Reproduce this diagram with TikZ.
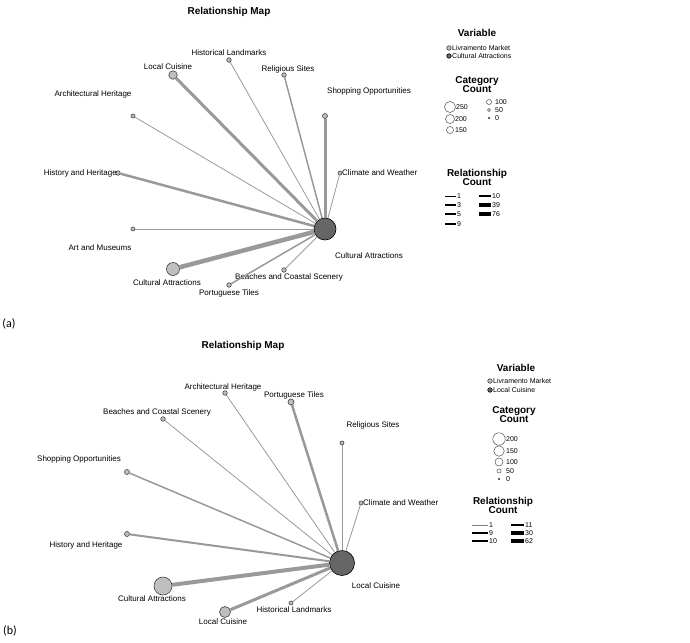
\documentclass[tikz,border=0pt]{standalone}
\usepackage{fontspec}
\setmainfont{Liberation Sans}
\newfontfamily\capfont{Carlito}
\usepackage{tikz}
\usetikzlibrary{positioning}

\tikzset{
  catnode/.style={circle, draw=black!75, fill=black!25, line width=0.6pt, inner sep=0pt},
  hubnode/.style={circle, draw=black, fill=black!60, line width=0.6pt, inner sep=0pt},
  lbl/.style={font=\fontsize{8}{9}\selectfont, inner sep=0pt},
  ttl/.style={font=\bfseries\fontsize{10}{11}\selectfont, inner sep=0pt},
  lgttl/.style={font=\bfseries\fontsize{10}{11}\selectfont, inner sep=0pt, align=center},
  lgtxt/.style={font=\fontsize{7}{8}\selectfont, inner sep=0pt},
  edge/.style={draw=black!40},
  lgline/.style={draw=black, shorten >=1.5pt},
  sizecirc/.style={circle, draw=black!70, fill=white, line width=0.5pt, inner sep=0pt}
}

\begin{document}
\begin{tikzpicture}[x=1pt, y=-1pt]
\useasboundingbox (0,0) rectangle (690,642);
%%% Panel (a): the map around Cultural Attractions
\node[ttl] (ttlA) at (229,12) {Relationship Map};
\node[hubnode, minimum size=22pt] (hubA) at (325,229) {};
\node[catnode, minimum size=8.5pt] (lcA) at (173,75) {};
\node[catnode, minimum size=4.5pt] (hlA) at (229,60) {};
\node[catnode, minimum size=4.5pt] (rsA) at (284,75) {};
\node[catnode, minimum size=5pt] (soA) at (325,116) {};
\node[catnode, minimum size=4pt] (cwA) at (340,173) {};
\node[catnode, minimum size=4pt] (ahA) at (133,116) {};
\node[catnode, minimum size=4.5pt] (hhA) at (118,173) {};
\node[catnode, minimum size=4pt] (amA) at (133,229) {};
\node[catnode, minimum size=13pt] (caA) at (173,269) {};
\node[catnode, minimum size=4.5pt] (ptA) at (229,285) {};
\node[catnode, minimum size=4.5pt] (bcA) at (284,270) {};
%%% labels of panel (a)
\node[lbl] (hlAt) at (229,53) {Historical Landmarks};
\node[lbl] (lcAt) at (168,67) {Local Cuisine};
\node[lbl] (rsAt) at (288,69) {Religious Sites};
\node[lbl] (ahAt) at (93,94) {Architectural Heritage};
\node[lbl] (soAt) at (369,91) {Shopping Opportunities};
\node[lbl, anchor=west] (cwAt) at (342,173) {Climate and Weather};
\node[lbl, anchor=east] (hhAt) at (117,173) {History and Heritage};
\node[lbl] (amAt) at (100,248) {Art and Museums};
\node[lbl] (hubAt) at (369,256) {Cultural Attractions};
\node[lbl] (caAt) at (167,283) {Cultural Attractions};
\node[lbl] (bcAt) at (289,277) {Beaches and Coastal Scenery};
\node[lbl] (ptAt) at (229,293) {Portuguese Tiles};
%%% edges of panel (a)
\draw[edge, line width=3pt] (hubA) -- (lcA);
\draw[edge, line width=0.8pt] (hubA) -- (hlA);
\draw[edge, line width=1.5pt] (hubA) -- (rsA);
\draw[edge, line width=3pt] (hubA) -- (soA);
\draw[edge, line width=0.8pt] (hubA) -- (cwA);
\draw[edge, line width=0.8pt] (hubA) -- (ahA);
\draw[edge, line width=2.5pt] (hubA) -- (hhA);
\draw[edge, line width=0.8pt] (hubA) -- (amA);
\draw[edge, line width=4.5pt] (hubA) -- (caA);
\draw[edge, line width=1.5pt] (hubA) -- (ptA);
\draw[edge, line width=1pt] (hubA) -- (bcA);
%%% legend of panel (a)
\node[lgttl] (varA) at (477,33) {Variable};
\node[catnode, minimum size=4.5pt] (varA1) at (449,48) {};
\node[lgtxt, anchor=west] (varA1t) at (452,48) {Livramento Market};
\node[hubnode, minimum size=4.5pt] (varA2) at (449,56) {};
\node[lgtxt, anchor=west] (varA2t) at (452,56) {Cultural Attractions};
\node[lgttl] (catA) at (477,84.5) {Category\\[-2pt]Count};
\node[sizecirc, minimum size=11pt] (catA1) at (450,107) {};
\node[lgtxt, anchor=west] at (456,107) {250};
\node[sizecirc, minimum size=9pt] (catA2) at (450,119) {};
\node[lgtxt, anchor=west] at (455,119) {200};
\node[sizecirc, minimum size=7pt] (catA3) at (450,130) {};
\node[lgtxt, anchor=west] at (455,130) {150};
\node[sizecirc, minimum size=5pt] (catA4) at (489,102) {};
\node[lgtxt, anchor=west] at (495,102) {100};
\node[sizecirc, minimum size=3pt] (catA5) at (489,110) {};
\node[lgtxt, anchor=west] at (495,110) {50};
\node[sizecirc, fill=black, minimum size=1.5pt] (catA6) at (489,118) {};
\node[lgtxt, anchor=west] at (495,118) {0};
\node[lgttl] (relA) at (477,177) {Relationship\\[-2pt]Count};
\coordinate (relA1) at (445,196);
\node[lgtxt, anchor=west] (relA1t) at (457,196) {1};
\draw[lgline, line width=0.7pt] (relA1) -- (relA1t.west);
\coordinate (relA2) at (445,205);
\node[lgtxt, anchor=west] (relA2t) at (457,205) {3};
\draw[lgline, line width=1.2pt] (relA2) -- (relA2t.west);
\coordinate (relA3) at (445,214);
\node[lgtxt, anchor=west] (relA3t) at (457,214) {5};
\draw[lgline, line width=1.8pt] (relA3) -- (relA3t.west);
\coordinate (relA4) at (445,224);
\node[lgtxt, anchor=west] (relA4t) at (457,224) {9};
\draw[lgline, line width=2.5pt] (relA4) -- (relA4t.west);
\coordinate (relA5) at (479,196);
\node[lgtxt, anchor=west] (relA5t) at (492,196) {10};
\draw[lgline, line width=2.8pt] (relA5) -- (relA5t.west);
\coordinate (relA6) at (479,205);
\node[lgtxt, anchor=west] (relA6t) at (492,205) {39};
\draw[lgline, line width=3.5pt] (relA6) -- (relA6t.west);
\coordinate (relA7) at (479,214);
\node[lgtxt, anchor=west] (relA7t) at (492,214) {76};
\draw[lgline, line width=4.5pt] (relA7) -- (relA7t.west);
\node[font=\capfont\fontsize{12}{13}\selectfont, inner sep=0pt] (capA) at (9,324) {(a)};
%%% Panel (b): the map around Local Cuisine
\node[ttl] (ttlB) at (243,346) {Relationship Map};
\node[hubnode, minimum size=25pt] (hubB) at (342,563) {};
\node[catnode, minimum size=4.5pt] (ahB) at (225,393) {};
\node[catnode, minimum size=6pt] (ptB) at (291,402) {};
\node[catnode, minimum size=4.5pt] (bcB) at (163,419) {};
\node[catnode, minimum size=4pt] (rsB) at (342,443) {};
\node[catnode, minimum size=5pt] (soB) at (127,472) {};
\node[catnode, minimum size=4pt] (cwB) at (361,503) {};
\node[catnode, minimum size=5pt] (hhB) at (127,534) {};
\node[catnode, minimum size=18pt] (caB) at (163,586) {};
\node[catnode, minimum size=11pt] (lcB) at (225,612) {};
\node[catnode, minimum size=4pt] (hlB) at (291,603) {};
%%% labels of panel (b)
\node[lbl] (ahBt) at (223,387) {Architectural Heritage};
\node[lbl] (ptBt) at (294,395) {Portuguese Tiles};
\node[lbl] (bcBt) at (157,412) {Beaches and Coastal Scenery};
\node[lbl] (rsBt) at (373,425) {Religious Sites};
\node[lbl] (soBt) at (79,459) {Shopping Opportunities};
\node[lbl, anchor=west] (cwBt) at (363,503) {Climate and Weather};
\node[lbl] (hhBt) at (86,545) {History and Heritage};
\node[lbl] (hubBt) at (376,586) {Local Cuisine};
\node[lbl] (caBt) at (152,599) {Cultural Attractions};
\node[lbl] (hlBt) at (294,610) {Historical Landmarks};
\node[lbl] (lcBt) at (223,622) {Local Cuisine};
%%% edges of panel (b)
\draw[edge, line width=0.8pt] (hubB) -- (ahB);
\draw[edge, line width=2.5pt] (hubB) -- (ptB);
\draw[edge, line width=0.8pt] (hubB) -- (bcB);
\draw[edge, line width=1pt] (hubB) -- (rsB);
\draw[edge, line width=1.5pt] (hubB) -- (soB);
\draw[edge, line width=0.8pt] (hubB) -- (cwB);
\draw[edge, line width=2pt] (hubB) -- (hhB);
\draw[edge, line width=4pt] (hubB) -- (caB);
\draw[edge, line width=3pt] (hubB) -- (lcB);
\draw[edge, line width=0.8pt] (hubB) -- (hlB);
%%% legend of panel (b)
\node[lgttl] (varB) at (516,368) {Variable};
\node[catnode, minimum size=4.5pt] (varB1) at (490,381) {};
\node[lgtxt, anchor=west] (varB1t) at (493,381) {Livramento Market};
\node[hubnode, minimum size=4.5pt] (varB2) at (490,390) {};
\node[lgtxt, anchor=west] (varB2t) at (493,390) {Local Cuisine};
\node[lgttl] (catB) at (514,415) {Category\\[-2pt]Count};
\node[sizecirc, minimum size=12.5pt] (catB1) at (499,439) {};
\node[lgtxt, anchor=west] at (506,439) {200};
\node[sizecirc, minimum size=10.5pt] (catB2) at (499,451) {};
\node[lgtxt, anchor=west] at (506,451) {150};
\node[sizecirc, minimum size=8pt] (catB3) at (499,462) {};
\node[lgtxt, anchor=west] at (506,462) {100};
\node[sizecirc, minimum size=4pt] (catB4) at (499,471) {};
\node[lgtxt, anchor=west] at (506,471) {50};
\node[sizecirc, fill=black, minimum size=1.5pt] (catB5) at (499,479) {};
\node[lgtxt, anchor=west] at (506,479) {0};
\node[lgttl] (relB) at (503,505.5) {Relationship\\[-2pt]Count};
\coordinate (relB1) at (472,525);
\node[lgtxt, anchor=west] (relB1t) at (489,525) {1};
\draw[lgline, draw=black!50, line width=0.8pt] (relB1) -- (relB1t.west);
\coordinate (relB2) at (472,533);
\node[lgtxt, anchor=west] (relB2t) at (489,533) {9};
\draw[lgline, line width=1.2pt] (relB2) -- (relB2t.west);
\coordinate (relB3) at (472,541);
\node[lgtxt, anchor=west] (relB3t) at (489,541) {10};
\draw[lgline, line width=2pt] (relB3) -- (relB3t.west);
\coordinate (relB4) at (511,525);
\node[lgtxt, anchor=west] (relB4t) at (525,525) {11};
\draw[lgline, line width=2.5pt] (relB4) -- (relB4t.west);
\coordinate (relB5) at (511,533);
\node[lgtxt, anchor=west] (relB5t) at (525,533) {30};
\draw[lgline, line width=3.5pt] (relB5) -- (relB5t.west);
\coordinate (relB6) at (511,541);
\node[lgtxt, anchor=west] (relB6t) at (525,541) {62};
\draw[lgline, line width=4.5pt] (relB6) -- (relB6t.west);
\node[font=\capfont\fontsize{12}{13}\selectfont, inner sep=0pt] (capB) at (10,631) {(b)};
\end{tikzpicture}
\end{document}
